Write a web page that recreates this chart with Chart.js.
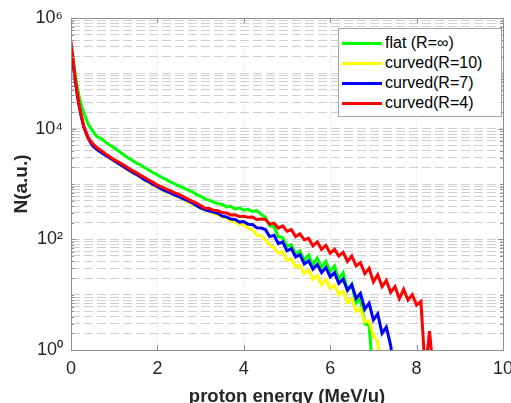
<!DOCTYPE html>
<html>
<head>
<meta charset="utf-8">
<script src="https://cdn.jsdelivr.net/npm/chart.js@4.4.1/dist/chart.umd.min.js"></script>
<style>
  body { margin: 0; background: #fff; overflow: hidden; }
  #wrap { position: relative; width: 511px; height: 403px; }
  #legend {
    position: absolute; left: 338px; top: 28px; width: 164px; height: 89px;
    box-sizing: border-box; border: 1px solid #a6a6a6; background: #fff;
    padding-top: 4px; font-family: "Liberation Sans", Arial, sans-serif; font-size: 16px; color: #000;
  }
  #legend .row { height: 20px; line-height: 20px; white-space: nowrap; }
  #legend .swatch { display: inline-block; width: 40px; height: 3px; margin: 0 3px 0 3px; vertical-align: middle; }
</style>
</head>
<body>
<div id="wrap">
  <canvas id="myChart" width="511" height="403"></canvas>
  <div id="legend"></div>
</div>
<script>
// proton energy (MeV/u)
var energy = [0, 0.05, 0.1, 0.15, 0.2, 0.25, 0.3,
  0.4, 0.5, 0.6, 0.7, 0.8, 0.9, 1, 1.1, 1.2, 1.3, 1.4, 1.5, 1.6, 1.7, 1.8, 1.9,
  2, 2.1, 2.2, 2.3, 2.4, 2.5, 2.6, 2.7, 2.8, 2.9, 3, 3.1, 3.2, 3.3, 3.4, 3.5, 3.6, 3.7, 3.8, 3.9,
  4, 4.1, 4.2, 4.3, 4.4, 4.5, 4.6, 4.7, 4.8, 4.9, 5, 5.1, 5.2, 5.3, 5.4, 5.5, 5.6, 5.7, 5.8, 5.9,
  6, 6.1, 6.2, 6.3, 6.4, 6.5, 6.6, 6.7, 6.8, 6.9, 7, 7.1, 7.2, 7.3, 7.4, 7.5, 7.6, 7.7, 7.8, 7.9,
  8, 8.1, 8.2, 8.3, 8.4];

// N (a.u.) per series
var flat_N = [320000, 180000, 95000, 55000, 35000, 25000, 19000,
  12000, 9100, 7200, 6600, 5700, 5000, 4500, 3950, 3500, 3050, 2750, 2430, 2220, 1980, 1790, 1610,
  1460, 1310, 1210, 1090, 1010, 920, 860, 780, 730, 650, 600, 540, 510, 470, 440, 430, 385, 395, 352, 372,
  335, 348, 318, 330, 282, 250, 176, 168, 112, 108, 74, 80, 54, 62, 42, 52, 35, 46, 31, 40,
  26, 33, 19, 25, 12, 15.5, 7, 8.5, 3, 2.8, 0.3];

var r10_N = [280000, 150000, 74000, 40000, 23500, 15500, 10700,
  6600, 5000, 4200, 3700, 3300, 2900, 2570, 2290, 2040, 1820, 1620, 1480, 1320, 1170, 1070, 955,
  870, 790, 720, 675, 615, 575, 525, 480, 435, 400, 363, 340, 316, 292, 278, 255, 245, 215, 212, 186,
  186, 158, 150, 120, 115, 96, 80, 70, 56, 60, 42, 44, 32, 34, 24, 28, 19, 22, 15, 19,
  13, 15, 10, 11.5, 7.2, 8.5, 5, 5.6, 3.2, 3.4, 1.8, 1.4, 0.3];

var r7_N = [250000, 140000, 71000, 38000, 23000, 15000, 10500,
  6600, 4900, 4200, 3700, 3300, 2950, 2630, 2340, 2090, 1860, 1660, 1510, 1350, 1200, 1100, 980,
  890, 810, 740, 690, 630, 590, 540, 500, 460, 410, 370, 345, 325, 310, 295, 262, 255, 232, 228, 205,
  210, 188, 186, 162, 160, 150, 112, 118, 84, 90, 62, 68, 48, 53, 36, 41, 29, 35, 25, 31,
  21, 25, 16, 19, 12, 15, 8.5, 10.5, 5.5, 7, 3.5, 4.5, 2, 2.6, 1.2, 0.3];

var r4_N = [370000, 175000, 76000, 41000, 24000, 16000, 10700,
  6800, 5400, 4500, 4000, 3500, 3100, 2750, 2500, 2250, 2000, 1780, 1620, 1450, 1320, 1180, 1070,
  950, 890, 810, 760, 690, 650, 590, 540, 490, 450, 410, 365, 362, 335, 330, 305, 300, 275, 278, 258,
  262, 250, 252, 228, 232, 228, 188, 196, 160, 175, 140, 150, 112, 126, 98, 104, 76, 90, 66, 78,
  56, 66, 50, 58, 40, 50, 33, 38, 24, 30, 17, 23, 14, 18, 11, 14, 8.5, 12.5, 8, 10,
  6.5, 7.5, 0.4, 2.2, 0.3];

var seriesNames = ['flat (R=\u221E)', 'curved(R=10)', 'curved(R=7)', 'curved(R=4)'];
var seriesColors = ['#00ff00', '#ffff00', '#0000ff', '#ff0000'];
var seriesValues = [flat_N, r10_N, r7_N, r4_N];

var xTicks = [0, 2, 4, 6, 8, 10];
var yMajorTicks = [1, 100, 10000, 1000000];
var yTickLabels = ['10\u2070', '10\u00B2', '10\u2074', '10\u2076'];

// minor log grid: 1..9 x 10^k
var yGridTicks = [];
for (var k = 0; k < 6; k++) {
    for (var m = 1; m < 10; m++) {
        yGridTicks.push(m * Math.pow(10, k));
    }
}
yGridTicks.push(1000000);

var tickFont = { family: '"Liberation Sans", Arial, sans-serif', size: 18 };
var titleFont = { family: '"Liberation Sans", Arial, sans-serif', size: 19, weight: 'bold' };

// box + inward tick marks, like the matlab axes
const boxPlugin = {
    id: 'boxPlugin',
    afterDatasetsDraw(chart) {
        const ctx = chart.ctx;
        const a = chart.chartArea;
        const xs = chart.scales.x, ys = chart.scales.y;
        ctx.save();
        ctx.strokeStyle = '#8f8f8f';
        ctx.lineWidth = 1;
        ctx.beginPath();
        yGridTicks.forEach(function (v) {
            var py = Math.round(ys.getPixelForValue(v)) + 0.5;
            var len = yMajorTicks.indexOf(v) >= 0 ? 5 : 3;
            ctx.moveTo(a.left, py); ctx.lineTo(a.left + len, py);
            ctx.moveTo(a.right, py); ctx.lineTo(a.right - len, py);
        });
        xTicks.forEach(function (v) {
            var px = Math.round(xs.getPixelForValue(v)) + 0.5;
            ctx.moveTo(px, a.bottom); ctx.lineTo(px, a.bottom - 5);
            ctx.moveTo(px, a.top); ctx.lineTo(px, a.top + 5);
        });
        ctx.stroke();
        ctx.strokeRect(Math.round(a.left) + 0.5, Math.round(a.top) + 0.5,
            Math.round(a.right - a.left), Math.round(a.bottom - a.top));
        ctx.restore();
    }
};

var datasets = [];
seriesValues.forEach(function (vals, i) {
    var pts = [];
    vals.forEach(function (v, j) {
        pts.push({ x: energy[j], y: v });
    });
    datasets.push({
        label: seriesNames[i],
        data: pts,
        borderColor: seriesColors[i],
        backgroundColor: seriesColors[i],
        borderWidth: 3,
        pointRadius: 0,
        tension: 0,
        clip: 0,
        order: 4 - i
    });
});

const config = {
    type: 'line',
    data: { datasets: datasets },
    options: {
        responsive: false,
        animation: false,
        devicePixelRatio: 1,
        layout: { padding: { top: 18, right: 8, left: 0, bottom: 0 } },
        plugins: { legend: { display: false }, tooltip: { enabled: false } },
        scales: {
            x: {
                type: 'linear', min: 0, max: 10,
                afterBuildTicks: function (axis) { axis.ticks = xTicks.map(function (v) { return { value: v }; }); },
                afterFit: function (axis) { axis.height = 53; axis.paddingLeft = 0; axis.paddingRight = 0; },
                ticks: { font: tickFont, color: '#262626', padding: 8, maxRotation: 0, autoSkip: false },
                grid: { color: '#d6d6d6', drawTicks: false, lineWidth: 1 },
                border: { display: false, dash: [1, 3] },
                title: { display: true, text: 'proton energy (MeV/u)', color: '#262626',
                    font: { family: titleFont.family, size: 18.5, weight: 'bold' }, padding: { top: 0, bottom: -5 } }
            },
            y: {
                type: 'logarithmic', min: 1, max: 1000000,
                afterBuildTicks: function (axis) { axis.ticks = yGridTicks.map(function (v) { return { value: v }; }); },
                afterFit: function (axis) { axis.width = 71; axis.paddingTop = 0; axis.paddingBottom = 0; },
                ticks: {
                    font: tickFont, color: '#262626', padding: 8, autoSkip: false,
                    callback: function (value) {
                        var idx = yMajorTicks.indexOf(value);
                        return idx >= 0 ? yTickLabels[idx] : '';
                    }
                },
                grid: { color: '#d0d0d0', drawTicks: false, lineWidth: 1 },
                border: { display: false, dash: [9, 4] },
                title: { display: true, text: 'N(a.u.)', color: '#262626', font: titleFont, padding: { top: 10, bottom: 0 } }
            }
        }
    },
    plugins: [boxPlugin]
};

const myChart = new Chart(document.getElementById('myChart'), config);

// legend box drawn over the plot, top right
var legendDiv = document.getElementById('legend');
seriesNames.forEach(function (name, i) {
    var row = document.createElement('div');
    row.className = 'row';
    var sw = document.createElement('span');
    sw.className = 'swatch';
    sw.style.background = seriesColors[i];
    row.appendChild(sw);
    row.appendChild(document.createTextNode(name));
    legendDiv.appendChild(row);
});
</script>
</body>
</html>
